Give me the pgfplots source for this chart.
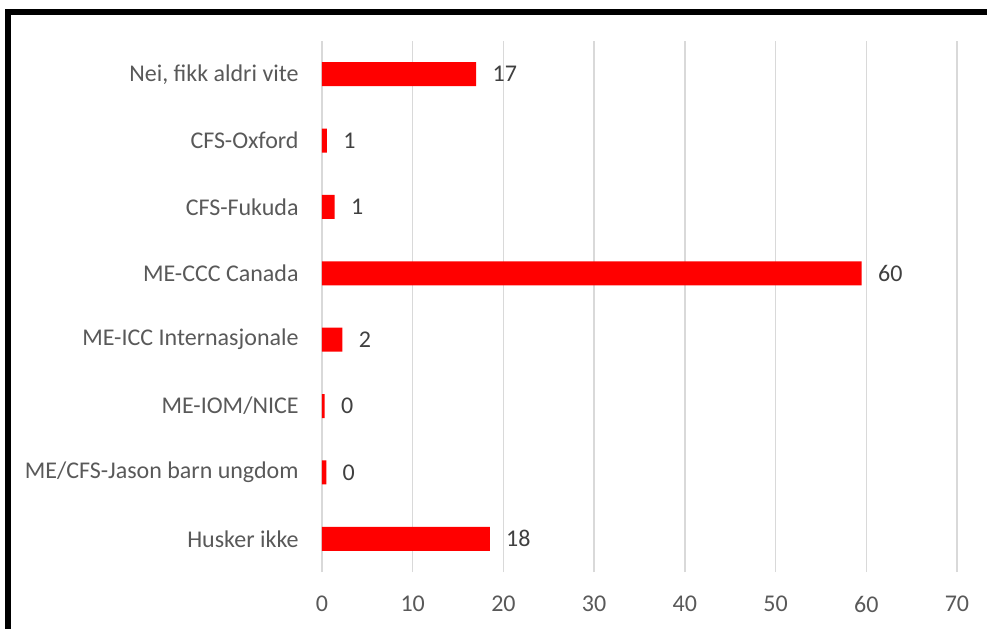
\documentclass[border=0pt]{standalone}
\usepackage{pgfplots}
\pgfplotsset{compat=1.18}
\usepackage{fontspec}
\setmainfont{Carlito}
\definecolor{lbl}{HTML}{595959}
\definecolor{dlbl}{HTML}{404040}
\definecolor{grd}{HTML}{D9D9D9}
\begin{document}
\fontsize{12}{14}\selectfont
\begin{tikzpicture}
\useasboundingbox (0,0) rectangle (493.5pt,314pt);
\begin{axis}[
 at={(161pt,28pt)}, anchor=south west,
 scale only axis, width=317.5pt, height=265.5pt,
 xbar, bar width=12pt,
 xmin=0, xmax=70, ymin=-0.5, ymax=7.5,
 xtick={0,10,...,70},
 ytick={0,...,7},
 yticklabels={Husker ikke, ME/CFS-Jason barn ungdom, ME-IOM/NICE, ME-ICC Internasjonale, ME-CCC Canada, CFS-Fukuda, CFS-Oxford, {Nei, fikk aldri vite}},
 xmajorgrids, grid style={grd, line width=0.7pt},
 axis line style={draw=none},
 major tick length=0pt,
 tick label style={font=\fontsize{12}{14}\selectfont, text=lbl},
 /pgf/number format/assume math mode=true,
 xticklabel style={yshift=-8pt},
 yticklabel style={xshift=-7.5pt},
 nodes near coords, point meta=explicit symbolic,
 nodes near coords style={font=\fontsize{12}{14}\selectfont, text=dlbl, anchor=west, xshift=4pt},
]
\addplot[fill=red, draw=none] table[meta=lab] {
x y lab
18.5 0 18
0.47 1 0
0.3 2 0
2.25 3 2
59.5 4 60
1.4 5 1
0.55 6 1
17 7 17
};
\end{axis}
\draw[line width=3pt] (4pt,-20pt) -- (4pt,308pt) -- (520pt,308pt);
\end{tikzpicture}
\end{document}
